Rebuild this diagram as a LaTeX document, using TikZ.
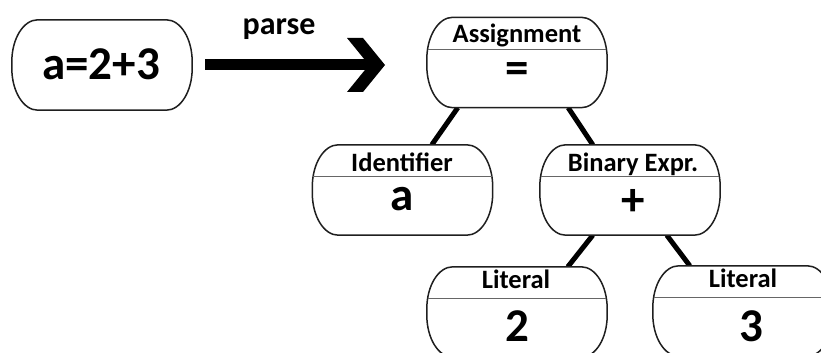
\documentclass[tikz,border=0pt]{standalone}
\usepackage{fontspec}
\setmainfont{Carlito}
\usetikzlibrary{calc}

% rounded capsule outline drawn around a (borderless) frame node
\newcommand\capsule[1]{%
  \path[outline] ([xshift=26pt]#1.north west) -- ([xshift=-26pt]#1.north east)
    arc[start angle=90,end angle=0,x radius=26pt,y radius=42pt]
    -- ([yshift=42pt]#1.south east)
    arc[start angle=0,end angle=-90,x radius=26pt,y radius=42pt]
    -- ([xshift=26pt]#1.south west)
    arc[start angle=270,end angle=180,x radius=26pt,y radius=42pt]
    -- ([yshift=-42pt]#1.north west)
    arc[start angle=180,end angle=90,x radius=26pt,y radius=42pt]
    -- cycle;}
% thin rule separating the node kind from its value
\newcommand\kindrule[1]{%
  \draw[divider] ([xshift=0.8pt,yshift=-32pt]#1.north west) -- ([xshift=-0.8pt,yshift=-32pt]#1.north east);}

\tikzset{
  frame/.style={draw=none, minimum width=180pt, minimum height=90pt, inner sep=0pt},
  outline/.style={draw=black!88, fill=white, line width=1.5pt},
  divider/.style={draw=black!60, line width=1pt},
  treeedge/.style={draw=black, line width=5pt},
  kind/.style={font=\fontsize{26.5}{30}\selectfont\bfseries, anchor=base, inner sep=0pt},
  val/.style={font=\fontsize{47}{52}\selectfont\bfseries, anchor=center, inner sep=0pt},
}

\begin{document}
\begin{tikzpicture}[x=1pt,y=1pt]
  \useasboundingbox (0,0) rectangle (821,353);
  \clip (0,0) rectangle (821,353);

  % frames
  \node[frame] (src)   at (102,288)   {};
  \node[frame] (asg)   at (517,290.5) {};
  \node[frame] (ident) at (402.5,163) {};
  \node[frame] (bin)   at (630,163)   {};
  \node[frame] (lit1)  at (517,41)    {};
  \node[frame] (lit2)  at (743,42)    {};

  % tree edges (under the boxes)
  \draw[treeedge] ([xshift=31pt]asg.south west)  -- ([xshift=119.5pt]ident.north west);
  \draw[treeedge] ([xshift=-39pt]asg.south east) -- ([xshift=53pt]bin.north west);
  \draw[treeedge] ([xshift=53pt]bin.south west)  -- ([xshift=141pt]lit1.north west);
  \draw[treeedge] ([xshift=127pt]bin.south west) -- ([xshift=37pt]lit2.north west);

  % boxes
  \capsule{src}
  \foreach \n in {asg,ident,bin,lit1,lit2}{\capsule{\n}\kindrule{\n}}

  % source text
  \node[val] (srctext) at (101,288.5) {a=2+3};

  % parse arrow
  \coordinate (tip) at (385,288);
  \draw[line width=11pt] ([xshift=13pt]src.east |- tip) -- ([xshift=-12pt]tip);
  \fill[shift={(tip)}] (-38,27) -- (-22,27) -- (0,0) -- (-22,-27) -- (-38,-27) -- (-16,0) -- cycle;
  \node[font=\fontsize{32}{36}\selectfont\bfseries, anchor=base, inner sep=0pt] (parse) at (279,318) {parse};

  % kinds
  \node[kind] (asgk)   at (517,310) {Assignment};
  \node[kind] (identk) at (402,181) {Identifier};
  \node[kind] (bink)   at (633,181) {Binary Expr.};
  \node[kind] (lit1k)  at (516,64)  {Literal};
  \node[kind] (lit2k)  at (743,65)  {Literal};

  % values
  \node[val] (asgv)   at (517,280)   {=};
  \node[val] (identv) at (402,153.5) {a};
  \node[val] (binv)   at (633,150.5) {+};
  \node[val] (lit1v)  at (517,27)    {2};
  \node[val] (lit2v)  at (751,27)    {3};
\end{tikzpicture}
\end{document}
